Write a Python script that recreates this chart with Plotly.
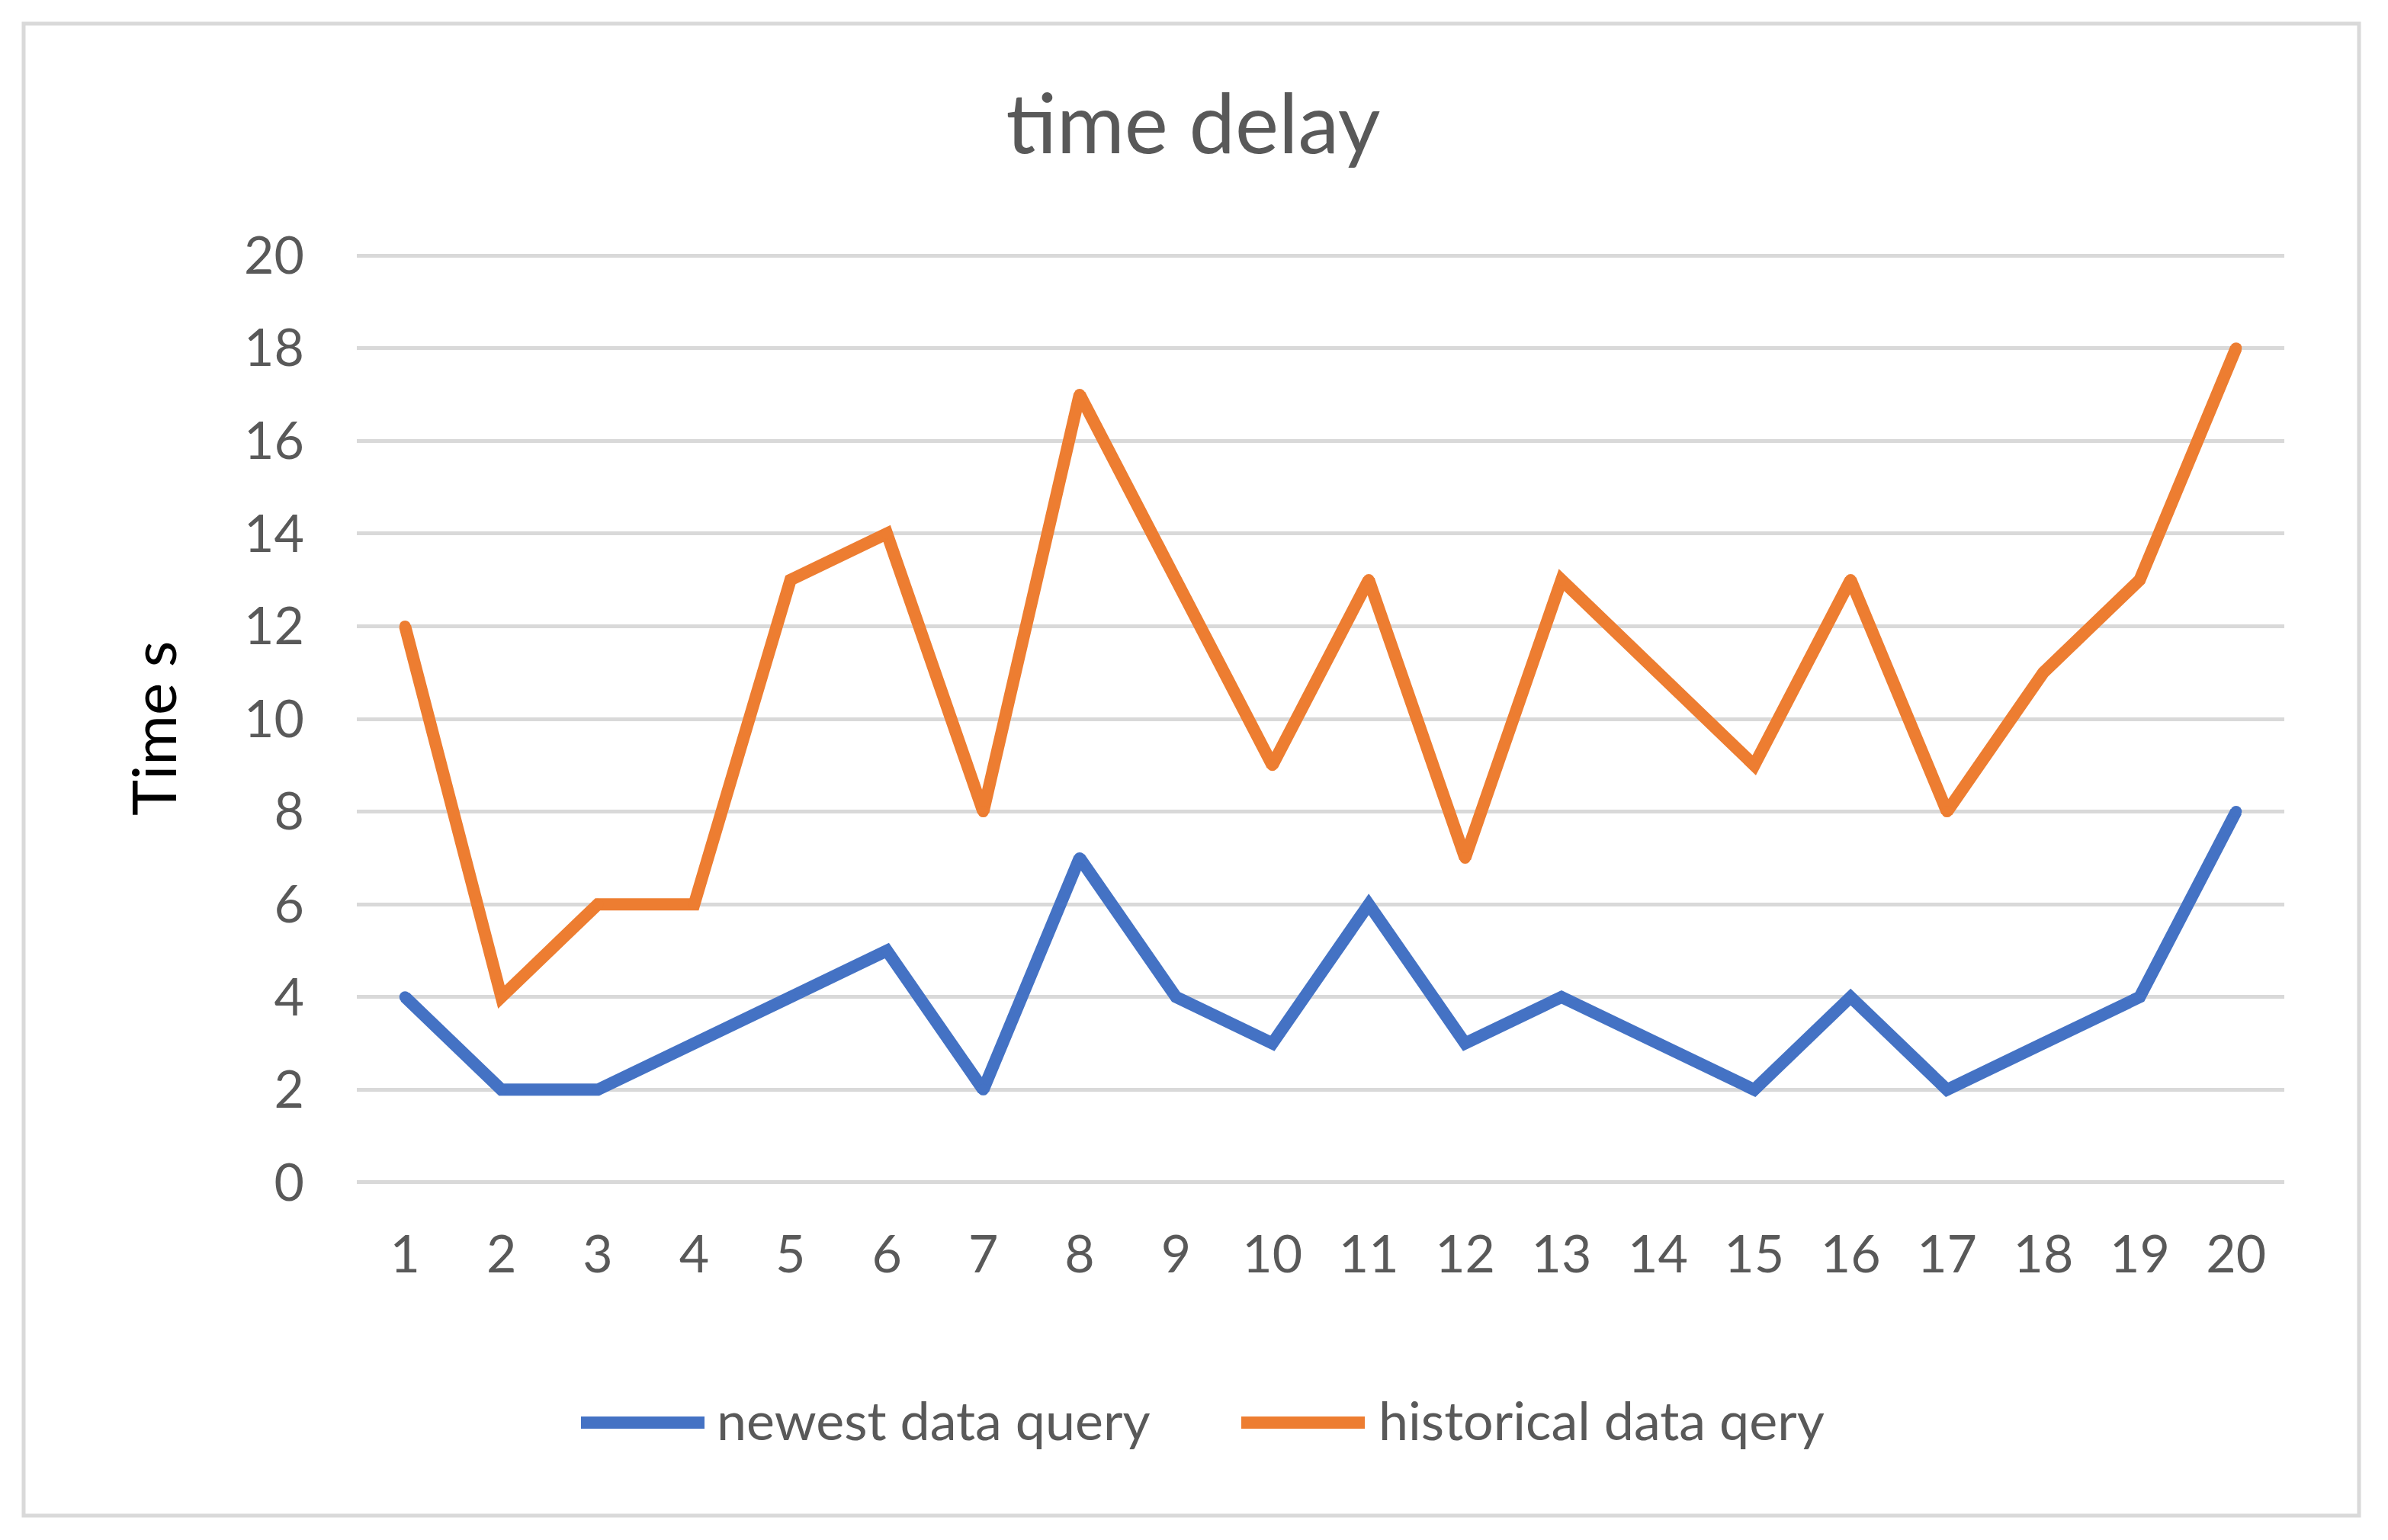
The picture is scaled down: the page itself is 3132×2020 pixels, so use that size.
"""Time delay chart - newest vs historical data query, Excel-style line chart."""

import plotly.graph_objects as go

# chart data
runs = list(range(1, 21))
newest_query = [4, 2, 2, 3, 4, 5, 2, 7, 4, 3, 6, 3, 4, 3, 2, 4, 2, 3, 4, 8]
historical_query = [12, 4, 6, 6, 13, 14, 8, 17, 13, 9, 13, 7, 13, 11, 9, 13, 8, 11, 13, 18]
y_ticks = list(range(0, 21, 2))

BLUE = "#4472C4"
ORANGE = "#ED7D31"
GRID = "#D9D9D9"
TEXT = "#595959"
FONT = "Lato"

# page body has an 8px margin, so the figure is drawn 8px in from the window edge
OFF = 8
W, H = 3132 - 2 * OFF, 2020 - 2 * OFF
# plot area in window pixels (y range padded a little so the 0 and 20 grid lines show)
PAD = 0.05
L, R = 468, 2996
Y0, Y20 = 1551, 335
UNIT = (Y0 - Y20) / 20
T, B = Y20 - PAD * UNIT, Y0 + PAD * UNIT
PW, PH = R - L, B - T


def px_x(x):
    return (x - L) / PW


def px_y(y):
    return (B - y) / PH


fig = go.Figure()

# small round markers at the vertices give the rounded joins/caps of the original
for name, values, color in [
    ("newest data query", newest_query, BLUE),
    ("historical data qery", historical_query, ORANGE),
]:
    fig.add_trace(go.Scatter(
        x=runs, y=values, name=name, mode="lines+markers",
        line=dict(color=color, width=16),
        marker=dict(color=color, size=15, line=dict(width=0)),
        showlegend=False,
    ))

# chart border
fig.add_shape(
    type="rect", xref="paper", yref="paper",
    x0=px_x(31), x1=px_x(3094), y0=px_y(1988), y1=px_y(31),
    line=dict(color=GRID, width=5), layer="below",
)

# custom legend (long line swatches like Excel)
legend_items = [
    ("newest data query", BLUE, 762, 924, 938),
    ("historical data qery", ORANGE, 1628, 1790, 1806),
]
ly = 1866
for label, color, x0, x1, tx in legend_items:
    fig.add_shape(
        type="line", xref="paper", yref="paper",
        x0=px_x(x0), x1=px_x(x1), y0=px_y(ly), y1=px_y(ly),
        line=dict(color=color, width=16),
    )
    fig.add_annotation(
        text=label, xref="paper", yref="paper",
        x=px_x(tx), y=px_y(ly - 4), xanchor="left", yanchor="middle",
        showarrow=False, font=dict(family=FONT, size=70, color=TEXT),
    )

# y axis title
fig.add_annotation(
    text="Time s", xref="paper", yref="paper",
    x=px_x(200), y=px_y(956), xanchor="center", yanchor="middle",
    textangle=-90, showarrow=False,
    font=dict(family=FONT, size=80, color="black"),
)

fig.update_layout(
    width=W, height=H,
    margin=dict(l=L - OFF, r=W + OFF - R, t=T - OFF, b=H + OFF - B, pad=0),
    paper_bgcolor="white", plot_bgcolor="white",
    font=dict(family=FONT, size=68, color=TEXT),
    title=dict(
        text="time delay", x=(1565 - OFF) / W, xanchor="center",
        y=1 - (163 - OFF) / H, yanchor="middle",
        font=dict(family=FONT, size=108, color=TEXT),
    ),
    xaxis=dict(
        range=[0.5, 20.5], tickvals=runs, ticktext=[str(r) for r in runs],
        showgrid=False, zeroline=False, showline=False,
        ticks="", ticklabelstandoff=46,
        tickfont=dict(family=FONT, size=68, color=TEXT),
    ),
    yaxis=dict(
        range=[-PAD, 20 + PAD], tickvals=y_ticks,
        showgrid=True, gridcolor=GRID, gridwidth=5,
        zeroline=False, showline=False,
        ticks="", ticklabelstandoff=68,
        tickfont=dict(family=FONT, size=68, color=TEXT),
    ),
)

fig.write_html("out.html")
